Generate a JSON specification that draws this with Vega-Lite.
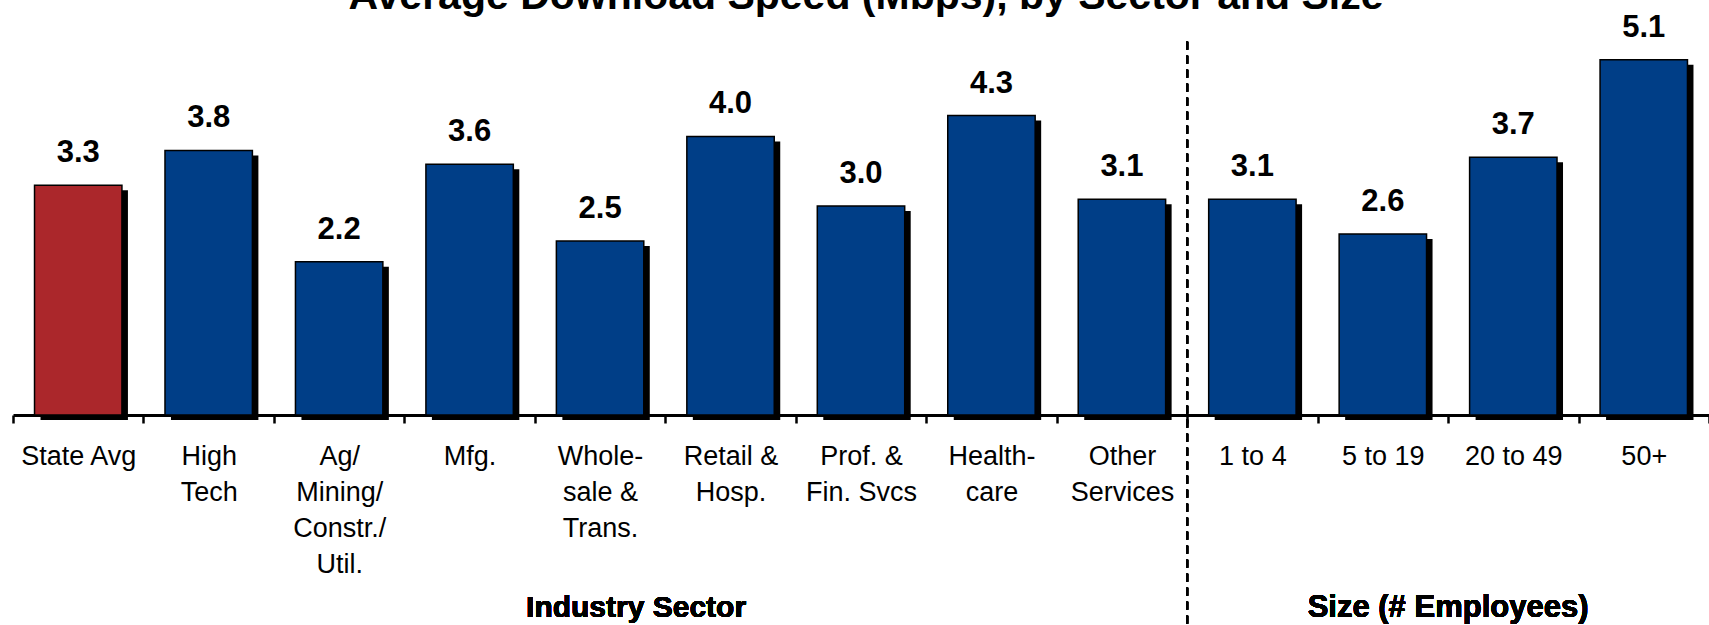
{
  "$schema": "https://vega.github.io/schema/vega-lite/v6.json",
  "width": 1696,
  "height": 383,
  "autosize": {"type": "none"},
  "padding": {"left": 13, "top": 32, "right": 0, "bottom": 210},
  "title": {
    "text": "Average Download Speed (Mbps), by Sector and Size",
    "anchor": "middle",
    "baseline": "alphabetic",
    "offset": 0,
    "dy": 38,
    "dx": 5,
    "fontSize": 41,
    "fontWeight": "bold",
    "font": "Liberation Sans",
    "color": "#000000"
  },
  "config": {
    "font": "Liberation Sans",
    "view": {"stroke": null},
    "axisX": {
      "domainColor": "#000000",
      "domainWidth": 3,
      "tickBand": "extent",
      "tickColor": "#000000",
      "tickSize": 8,
      "tickWidth": 2.5,
      "labelFont": "Liberation Sans",
      "labelFontSize": 27,
      "labelColor": "#000000",
      "labelAngle": 0,
      "labelLineHeight": 36,
      "labelPadding": 20,
      "labelLimit": 300,
      "labelExpr": "split(datum.label, '|')",
      "title": null,
      "grid": false
    }
  },
  "data": {
    "values": [
      {"label": "State Avg", "value": 3.3, "kind": "avg"},
      {"label": "High|Tech", "value": 3.8, "kind": "group"},
      {"label": "Ag/|Mining/|Constr./|Util.", "value": 2.2, "kind": "group"},
      {"label": "Mfg.", "value": 3.6, "kind": "group"},
      {"label": "Whole-|sale &|Trans.", "value": 2.5, "kind": "group"},
      {"label": "Retail &|Hosp.", "value": 4.0, "kind": "group"},
      {"label": "Prof.  &|Fin. Svcs", "value": 3.0, "kind": "group"},
      {"label": "Health-|care", "value": 4.3, "kind": "group"},
      {"label": "Other|Services", "value": 3.1, "kind": "group"},
      {"label": "1 to 4", "value": 3.1, "kind": "group"},
      {"label": "5 to 19", "value": 2.6, "kind": "group"},
      {"label": "20 to 49", "value": 3.7, "kind": "group"},
      {"label": "50+", "value": 5.1, "kind": "group"}
    ]
  },
  "layer": [
    {
      "mark": {"type": "bar", "width": {"band": 0.67}, "color": "#000000", "xOffset": 6, "yOffset": 5},
      "encoding": {
        "x": {"field": "label", "type": "nominal", "scale": {"domain": ["State Avg", "High|Tech", "Ag/|Mining/|Constr./|Util.", "Mfg.", "Whole-|sale &|Trans.", "Retail &|Hosp.", "Prof.  &|Fin. Svcs", "Health-|care", "Other|Services", "1 to 4", "5 to 19", "20 to 49", "50+"], "paddingInner": 0, "paddingOuter": 0}},
        "y": {"field": "value", "type": "quantitative", "axis": null, "scale": {"domain": [0, 5.5]}}
      }
    },
    {
      "mark": {"type": "bar", "width": {"band": 0.67}, "stroke": "#000000", "strokeWidth": 1.5},
      "encoding": {
        "x": {"field": "label", "type": "nominal", "scale": {"domain": ["State Avg", "High|Tech", "Ag/|Mining/|Constr./|Util.", "Mfg.", "Whole-|sale &|Trans.", "Retail &|Hosp.", "Prof.  &|Fin. Svcs", "Health-|care", "Other|Services", "1 to 4", "5 to 19", "20 to 49", "50+"], "paddingInner": 0, "paddingOuter": 0}},
        "y": {"field": "value", "type": "quantitative", "axis": null, "scale": {"domain": [0, 5.5]}},
        "color": {"field": "kind", "type": "nominal", "legend": null, "scale": {"domain": ["avg", "group"], "range": ["#AB272B", "#003E87"]}}
      }
    },
    {
      "mark": {"type": "text", "baseline": "alphabetic", "dy": -23, "fontSize": 31, "fontWeight": "bold", "color": "#000000"},
      "encoding": {
        "x": {"field": "label", "type": "nominal", "scale": {"domain": ["State Avg", "High|Tech", "Ag/|Mining/|Constr./|Util.", "Mfg.", "Whole-|sale &|Trans.", "Retail &|Hosp.", "Prof.  &|Fin. Svcs", "Health-|care", "Other|Services", "1 to 4", "5 to 19", "20 to 49", "50+"], "paddingInner": 0, "paddingOuter": 0}},
        "y": {"field": "value", "type": "quantitative", "axis": null, "scale": {"domain": [0, 5.5]}},
        "text": {"field": "value", "type": "quantitative", "format": ".1f"}
      }
    },
    {
      "mark": {"type": "rule", "color": "#000000", "strokeWidth": 2, "strokeDash": [8, 6]},
      "encoding": {
        "x": {"datum": "1 to 4", "bandPosition": 0, "scale": {"domain": ["State Avg", "High|Tech", "Ag/|Mining/|Constr./|Util.", "Mfg.", "Whole-|sale &|Trans.", "Retail &|Hosp.", "Prof.  &|Fin. Svcs", "Health-|care", "Other|Services", "1 to 4", "5 to 19", "20 to 49", "50+"], "paddingInner": 0, "paddingOuter": 0}},
        "y": {"datum": 5.36, "type": "quantitative", "axis": null, "scale": {"domain": [0, 5.5]}},
        "y2": {"datum": -3.3}
      }
    },
    {
      "mark": {"type": "text", "baseline": "alphabetic", "fontSize": 30, "fontWeight": "bold", "color": "#000000", "dx": 36},
      "encoding": {
        "x": {"datum": "Whole-|sale &|Trans.", "scale": {"domain": ["State Avg", "High|Tech", "Ag/|Mining/|Constr./|Util.", "Mfg.", "Whole-|sale &|Trans.", "Retail &|Hosp.", "Prof.  &|Fin. Svcs", "Health-|care", "Other|Services", "1 to 4", "5 to 19", "20 to 49", "50+"], "paddingInner": 0, "paddingOuter": 0}},
        "y": {"datum": -2.9, "type": "quantitative", "axis": null, "scale": {"domain": [0, 5.5]}},
        "text": {"value": "Industry Sector"}
      }
    },
    {
      "mark": {"type": "text", "baseline": "alphabetic", "fontSize": 31, "fontWeight": "bold", "color": "#000000"},
      "encoding": {
        "x": {"datum": "20 to 49", "bandPosition": 0, "scale": {"domain": ["State Avg", "High|Tech", "Ag/|Mining/|Constr./|Util.", "Mfg.", "Whole-|sale &|Trans.", "Retail &|Hosp.", "Prof.  &|Fin. Svcs", "Health-|care", "Other|Services", "1 to 4", "5 to 19", "20 to 49", "50+"], "paddingInner": 0, "paddingOuter": 0}},
        "y": {"datum": -2.9, "type": "quantitative", "axis": null, "scale": {"domain": [0, 5.5]}},
        "text": {"value": "Size (# Employees)"}
      }
    }
  ]
}
